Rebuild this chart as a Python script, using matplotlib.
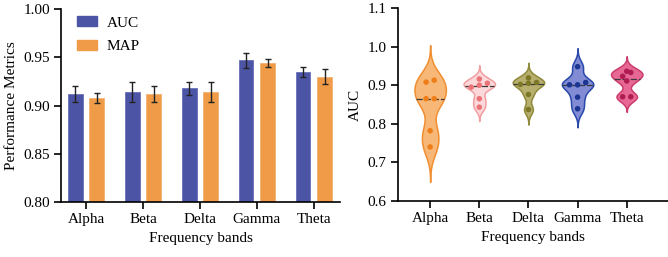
import numpy as np
import matplotlib
matplotlib.use("Agg")
import matplotlib.pyplot as plt
from matplotlib.patches import Patch

plt.rcParams['font.family'] = ['Liberation Serif', 'DejaVu Serif']
plt.rcParams['font.size'] = 11

bands = ["Alpha", "Beta", "Delta", "Gamma", "Theta"]

# left panel: mean metrics with error bars
auc_mean = [0.912, 0.914, 0.918, 0.947, 0.935]
auc_err = [0.0085, 0.010, 0.0065, 0.0075, 0.005]
map_mean = [0.908, 0.912, 0.9145, 0.944, 0.930]
map_err = [0.0055, 0.008, 0.0105, 0.004, 0.008]

# right panel: per-fold AUC values
auc_alpha = [0.740, 0.782, 0.865, 0.865, 0.908, 0.913]
auc_beta = [0.843, 0.865, 0.895, 0.900, 0.905, 0.916]
auc_delta = [0.837, 0.876, 0.902, 0.905, 0.907, 0.919]
auc_gamma = [0.839, 0.869, 0.901, 0.901, 0.907, 0.948]
auc_theta = [0.870, 0.870, 0.911, 0.923, 0.933, 0.936]
violin_data = [auc_alpha, auc_beta, auc_delta, auc_gamma, auc_theta]

fill_cols = ["#f7b470", "#fcd6d8", "#b3ab66", "#7a86d2", "#e6608f"]
edge_cols = ["#f08a2a", "#f19a9c", "#8c8634", "#2242a8", "#c93766"]
dot_cols = ["#ef7d1a", "#ea7478", "#7d7828", "#1c3593", "#b01c52"]

auc_col = "#4c55a5"
map_col = "#ef9b48"

fig = plt.figure(figsize=(6.68, 2.57), dpi=100)

# ---------- left: bar chart ----------
ax1 = fig.add_axes([0.0913, 0.2128, 0.4177, 0.752])
x = np.arange(len(bands))
w = 0.26
ekw = dict(elinewidth=1, capthick=1, ecolor="#222222")
ax1.bar(x - 0.19, auc_mean, w, color=auc_col, edgecolor="#6a70b8", linewidth=0.6,
        yerr=auc_err, capsize=2.5, error_kw=ekw)
ax1.bar(x + 0.19, map_mean, w, color=map_col, edgecolor="#f4b170", linewidth=0.6,
        yerr=map_err, capsize=2.5, error_kw=ekw)
ax1.set_ylim(0.80, 1.00)
ax1.set_xlim(-0.44, 4.46)
ax1.set_yticks([0.80, 0.85, 0.90, 0.95, 1.00])
ax1.set_yticklabels(["0.80", "0.85", "0.90", "0.95", "1.00"])
ax1.set_xticks(x)
ax1.set_xticklabels(bands)
ax1.set_xlabel("Frequency bands", labelpad=4)
ax1.set_ylabel("Performance Metrics", labelpad=4)
ax1.legend(handles=[Patch(color=auc_col, label="AUC"), Patch(color=map_col, label="MAP")],
           loc="upper left", bbox_to_anchor=(0.036, 0.995), frameon=False, borderaxespad=0,
           handlelength=1.3, handleheight=0.65, labelspacing=0.65, handletextpad=0.65)

# ---------- right: violins ----------
ax2 = fig.add_axes([0.5954, 0.2179, 0.4046, 0.751])
ax2.set_xlim(-0.66, 4.84)
ax2.set_ylim(0.6, 1.1)

half_w = 0.32
for i, vals in enumerate(violin_data):
    v = np.array(vals)
    sd = v.std(ddof=1)
    bw = 0.42 * sd
    grid = np.linspace(v.min() - 1.3 * sd, v.max() + 1.3 * sd, 300)
    dens = np.exp(-0.5 * ((grid[:, None] - v[None, :]) / bw) ** 2).sum(axis=1)
    dens = dens / dens.max() * half_w
    ax2.fill_betweenx(grid, i - dens, i + dens, facecolor=fill_cols[i], edgecolor=edge_cols[i],
                      linewidth=1.1, alpha=0.95, zorder=2)
    # median line
    med = np.median(v)
    dm = np.interp(med, grid, dens)
    ax2.plot([i - dm, i + dm], [med, med], color="#3a3a3a", ls=(0, (5, 1.5)), lw=0.9, zorder=3)
    # dots arranged in centred rows
    rows = []
    for val in np.sort(v):
        if rows and val - rows[-1][0] <= 0.0105:
            rows[-1].append(val)
        else:
            rows.append([val])
    for row in rows:
        k = len(row)
        for j, val in enumerate(row):
            ax2.scatter(i + (j - (k - 1) / 2) * 0.165, val, s=16, color=dot_cols[i],
                        edgecolors="none", zorder=4)

ax2.set_yticks([0.6, 0.7, 0.8, 0.9, 1.0, 1.1])
ax2.set_yticklabels(["0.6", "0.7", "0.8", "0.9", "1.0", "1.1"])
ax2.set_xticks(x)
ax2.set_xticklabels(bands)
ax2.set_xlabel("Frequency bands", labelpad=4)
ax2.set_ylabel("AUC", labelpad=4)

for ax in (ax1, ax2):
    ax.spines["top"].set_visible(False)
    ax.spines["right"].set_visible(False)
    ax.spines["left"].set_linewidth(1.2)
    ax.spines["bottom"].set_linewidth(1.2)
    ax.tick_params(direction="out", length=5, width=1.2, pad=3, labelsize=11)

fig.savefig("out.png", dpi=100)
